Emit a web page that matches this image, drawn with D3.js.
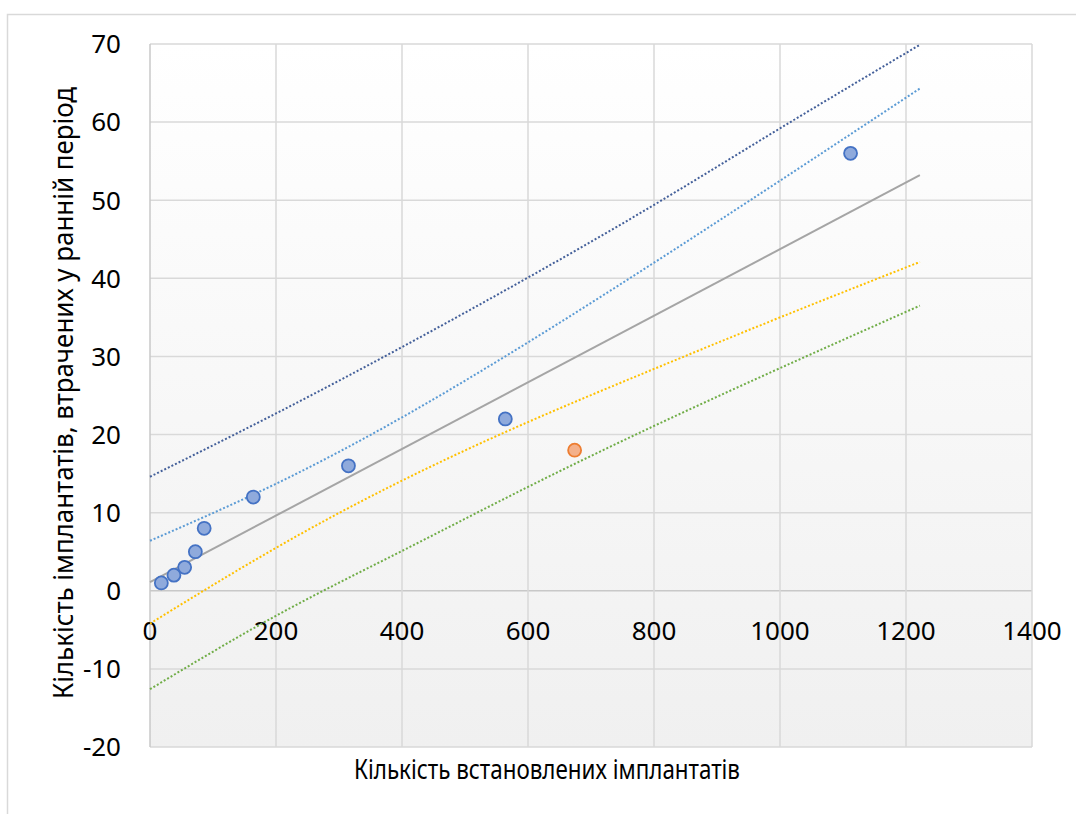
<!DOCTYPE html>
<html>
<head>
<meta charset="utf-8">
<script src="https://cdn.jsdelivr.net/npm/d3@7"></script>
<style>
  body { margin: 0; background: #fff; }
  text { font-family: "Noto Sans", sans-serif; fill: #000; }
</style>
</head>
<body>
<div id="chart"></div>
<script>
// data
const implants = [18, 38, 55, 72, 86, 164, 315, 564, 1112]
const lost = [1, 2, 3, 5, 8, 12, 16, 22, 56]
const outlierImplants = [674]
const outlierLost = [18]

// linear trend (endpoints) and the dotted bands
const trendX = [0, 1222]
const trendY = [1.1, 53.2]
const bandX = [0, 200, 400, 600, 800, 1000, 1222]
const upperPred = [14.6, 22.7, 31.2, 40.1, 49.4, 59.2, 69.9]
const upperConf = [6.4, 13.7, 22.2, 31.8, 42.0, 52.5, 64.3]
const lowerConf = [-4.2, 5.5, 14.1, 21.6, 28.4, 35.0, 42.1]
const lowerPred = [-12.6, -3.2, 5.1, 13.3, 21.1, 28.5, 36.5]

const xTicks = [0, 200, 400, 600, 800, 1000, 1200, 1400]
const yTicks = [-20, -10, 0, 10, 20, 30, 40, 50, 60, 70]
const xTitle = 'Кількість встановлених імплантатів'
const yTitle = 'Кількість імплантатів, втрачених у ранній період'

const W = 1076, H = 814
const plot = { left: 150, right: 1032, top: 44, bottom: 747 }

const svg = d3.select('#chart').append('svg')
  .attr('width', W)
  .attr('height', H)

const defs = svg.append('defs')
const grad = defs.append('linearGradient')
  .attr('id', 'bg')
  .attr('x1', 0).attr('y1', 0).attr('x2', 0).attr('y2', 1)
grad.append('stop').attr('offset', '0%').attr('stop-color', '#ffffff')
grad.append('stop').attr('offset', '100%').attr('stop-color', '#f0f0f0')

// chart border
svg.append('rect')
  .attr('x', 7.5).attr('y', 14.5)
  .attr('width', 1100).attr('height', 830)
  .attr('fill', '#fff')
  .attr('stroke', '#d9d9d9')
  .attr('stroke-width', 1.5)

const x = d3.scaleLinear().domain([0, 1400]).range([plot.left, plot.right])
const y = d3.scaleLinear().domain([-20, 70]).range([plot.bottom, plot.top])

svg.append('rect')
  .attr('x', plot.left).attr('y', plot.top)
  .attr('width', plot.right - plot.left).attr('height', plot.bottom - plot.top)
  .attr('fill', 'url(#bg)')

// grid
svg.append('g')
  .selectAll('line')
  .data(yTicks)
  .join('line')
  .attr('x1', plot.left).attr('x2', plot.right)
  .attr('y1', d => y(d)).attr('y2', d => y(d))
  .attr('stroke', d => d === 0 ? '#c8c8c8' : '#d9d9d9')
  .attr('stroke-width', 1.5)

svg.append('g')
  .selectAll('line')
  .data(xTicks)
  .join('line')
  .attr('y1', plot.top).attr('y2', plot.bottom)
  .attr('x1', d => x(d)).attr('x2', d => x(d))
  .attr('stroke', d => d === 0 ? '#c8c8c8' : '#d9d9d9')
  .attr('stroke-width', 1.5)

// tick labels
svg.append('g')
  .selectAll('text')
  .data(yTicks)
  .join('text')
  .attr('x', 121)
  .attr('y', d => y(d))
  .attr('dy', '0.36em')
  .attr('text-anchor', 'end')
  .attr('font-size', 26)
  .text(d => d)

svg.append('g')
  .selectAll('text')
  .data(xTicks)
  .join('text')
  .attr('x', d => x(d))
  .attr('y', y(0) + 49)
  .attr('text-anchor', 'middle')
  .attr('font-size', 26)
  .text(d => d)

// axis titles
svg.append('text')
  .attr('x', 547)
  .attr('y', 779)
  .attr('text-anchor', 'middle')
  .attr('font-size', 27)
  .attr('textLength', 386)
  .attr('lengthAdjust', 'spacingAndGlyphs')
  .text(xTitle)

svg.append('text')
  .attr('transform', 'translate(73, 393) rotate(-90)')
  .attr('text-anchor', 'middle')
  .attr('font-size', 27)
  .attr('textLength', 612)
  .attr('lengthAdjust', 'spacingAndGlyphs')
  .text(yTitle)

// bands
const band = d3.line()
  .x((d, i) => x(bandX[i]))
  .y(d => y(d))
  .curve(d3.curveNatural)

const bands = [
  { vals: upperPred, color: '#44609a' },
  { vals: upperConf, color: '#5b9bd5' },
  { vals: lowerConf, color: '#ffc000' },
  { vals: lowerPred, color: '#70ad47' }
]

svg.append('g')
  .selectAll('path')
  .data(bands)
  .join('path')
  .attr('d', d => band(d.vals))
  .attr('fill', 'none')
  .attr('stroke', d => d.color)
  .attr('stroke-width', 2)
  .attr('stroke-dasharray', '2,2')

// trend line
svg.append('path')
  .attr('d', d3.line().x((d, i) => x(trendX[i])).y(d => y(d))(trendY))
  .attr('fill', 'none')
  .attr('stroke', '#a5a5a5')
  .attr('stroke-width', 2)

// points
svg.append('g')
  .selectAll('circle')
  .data(implants)
  .join('circle')
  .attr('cx', d => x(d))
  .attr('cy', (d, i) => y(lost[i]))
  .attr('r', 6.5)
  .attr('fill', '#8faadc')
  .attr('stroke', '#4472c4')
  .attr('stroke-width', 1.8)

svg.append('g')
  .selectAll('circle')
  .data(outlierImplants)
  .join('circle')
  .attr('cx', d => x(d))
  .attr('cy', (d, i) => y(outlierLost[i]))
  .attr('r', 6.5)
  .attr('fill', '#f4b08a')
  .attr('stroke', '#ed7d31')
  .attr('stroke-width', 1.8)
</script>
</body>
</html>
